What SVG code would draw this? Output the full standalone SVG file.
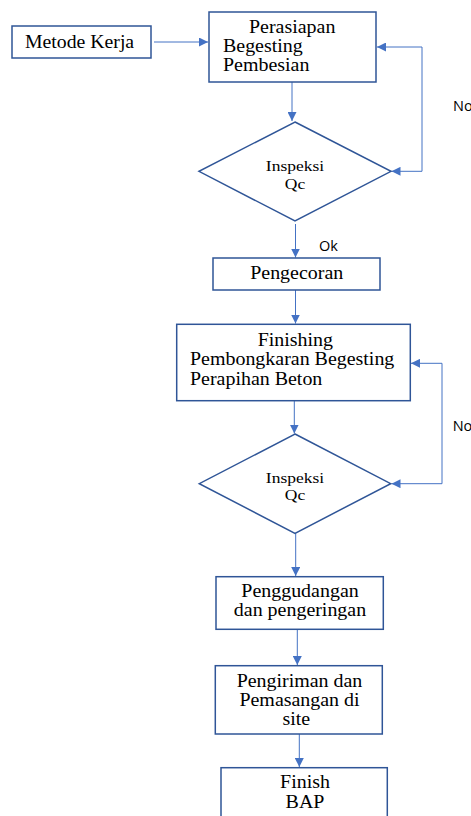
<svg xmlns="http://www.w3.org/2000/svg" width="471" height="816" viewBox="0 0 471 816">
<style>
.box{fill:#fff;stroke:#2F5597;stroke-width:1.5}
.dia{fill:#fff;stroke:#2F5597;stroke-width:1.5}
.con{fill:none;stroke:#4472C4;stroke-width:1}
.t{font-family:"Liberation Serif","Times New Roman",serif;font-size:19px;fill:#000}
.ts{font-family:"Liberation Serif","Times New Roman",serif;font-size:15.5px;fill:#000}
.lbl{font-family:"Open Sans","Liberation Sans",sans-serif;font-size:14.5px;fill:#000}
</style>
<defs>
<marker id="ah" viewBox="0 0 10 10" refX="10" refY="5" markerWidth="9" markerHeight="9" markerUnits="userSpaceOnUse" orient="auto-start-reverse">
<path d="M0,0 L10,5 L0,10 Z" fill="#4472C4"/>
</marker>
</defs>
<rect width="471" height="816" fill="#fff"/>
<g id="connectors">
<path class="con" d="M154,42 H208" marker-end="url(#ah)"/>
<path class="con" d="M292,82 V121" marker-end="url(#ah)"/>
<path class="con" d="M377,47 H422 V171.3 H391.5" marker-start="url(#ah)" marker-end="url(#ah)"/>
<path class="con" d="M295.5,224 V257.5" marker-end="url(#ah)"/>
<path class="con" d="M295.5,290 V323.5" marker-end="url(#ah)"/>
<path class="con" d="M294.3,401 V433.5" marker-end="url(#ah)"/>
<path class="con" d="M411,363.3 H442 V483.7 H391.5" marker-start="url(#ah)" marker-end="url(#ah)"/>
<path class="con" d="M295.7,533.5 V576" marker-end="url(#ah)"/>
<path class="con" d="M297.3,629.5 V665" marker-end="url(#ah)"/>
<path class="con" d="M299.3,734 V767" marker-end="url(#ah)"/>
<text class="lbl" x="453" y="110.5">No</text>
<text class="lbl" x="319" y="250.5">Ok</text>
<text class="lbl" x="452.7" y="430.7">No</text>
</g>
<g id="metode">
<rect class="box" x="12" y="26" width="139" height="32"/>
<text class="t" transform="translate(25,0) scale(1.04,1)"><tspan x="0" y="48">Metode Kerja</tspan></text>
</g>
<g id="perasiapan">
<rect class="box" x="209" y="12" width="167" height="70"/>
<text class="t" transform="translate(223,0) scale(1.05,1)"><tspan x="24.8" y="32.7">Perasiapan</tspan><tspan x="0" y="52.3">Begesting</tspan><tspan x="0" y="71.3">Pembesian</tspan></text>
</g>
<g id="inspeksi1">
<polygon class="dia" points="295,122 391,171.3 295,221 199,171.3"/>
<text class="ts" text-anchor="middle" transform="translate(295,0) scale(1.13,1)"><tspan x="0" y="171.5">Inspeksi</tspan><tspan x="0" y="189">Qc</tspan></text>
</g>
<g id="pengecoran">
<rect class="box" x="213" y="258" width="167" height="32"/>
<text class="t" text-anchor="middle" transform="translate(296.7,0) scale(1.05,1)"><tspan x="0" y="279.3">Pengecoran</tspan></text>
</g>
<g id="finishing">
<rect class="box" x="176.7" y="324.3" width="233.6" height="76.4"/>
<text class="t" transform="translate(190,0) scale(1.05,1)"><tspan x="64.5" y="346">Finishing</tspan><tspan x="0" y="365.5">Pembongkaran Begesting</tspan><tspan x="0" y="385">Perapihan Beton</tspan></text>
</g>
<g id="inspeksi2">
<polygon class="dia" points="295,434 390.7,483.7 295,533.3 199.3,483.7"/>
<text class="ts" text-anchor="middle" transform="translate(295,0) scale(1.13,1)"><tspan x="0" y="483">Inspeksi</tspan><tspan x="0" y="500.5">Qc</tspan></text>
</g>
<g id="penggudangan">
<rect class="box" x="216" y="576.7" width="167.3" height="52.6"/>
<text class="t" text-anchor="middle" transform="translate(300,0) scale(1.05,1)"><tspan x="0" y="597">Penggudangan</tspan><tspan x="0" y="616.5">dan pengeringan</tspan></text>
</g>
<g id="pengiriman">
<rect class="box" x="215.3" y="665.7" width="167" height="68.3"/>
<text class="t" text-anchor="middle" transform="translate(299.5,0) scale(1.05,1)"><tspan x="0" y="687">Pengiriman dan</tspan><tspan x="0" y="706.3">Pemasangan di</tspan><tspan x="-3" y="725">site</tspan></text>
</g>
<g id="finish">
<rect class="box" x="221" y="767.7" width="166.3" height="60"/>
<text class="t" text-anchor="middle" transform="translate(305,0) scale(1.05,1)"><tspan x="0" y="788.5">Finish</tspan><tspan x="0" y="808">BAP</tspan></text>
</g>
</svg>
